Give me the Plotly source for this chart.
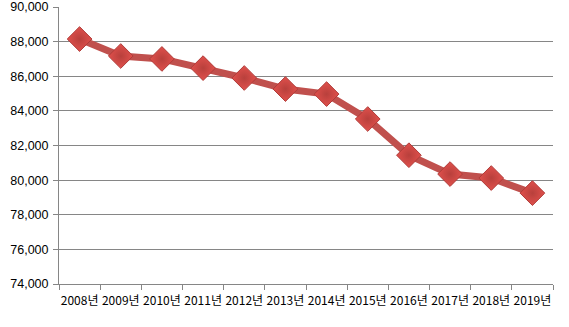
import plotly.graph_objects as go

years = ["2008년", "2009년", "2010년", "2011년", "2012년", "2013년",
         "2014년", "2015년", "2016년", "2017년", "2018년", "2019년"]
values = [88150, 87170, 87000, 86470, 85900, 85260,
          84970, 83530, 81440, 80350, 80120, 79250]
y_ticks = [74000, 76000, 78000, 80000, 82000, 84000, 86000, 88000, 90000]

fig = go.Figure()
fig.add_trace(go.Scatter(
    x=years, y=values, mode="lines+markers",
    line=dict(color="#C0504D", width=7),
    marker=dict(symbol="diamond", size=19, color="#E0504C",
                line=dict(color="#B03B38", width=1),
                gradient=dict(type="radial", color="#B8403C")),
    hoverinfo="x+y",
))

xfont = dict(family="Noto Sans CJK KR, DejaVu Sans, sans-serif", size=12, color="#000000")
yfont = dict(family="Liberation Sans, Arial, sans-serif", size=12.5, color="#000000")
fig.update_layout(
    width=569, height=327,
    margin=dict(l=59, r=16, t=7, b=43, autoexpand=False),
    paper_bgcolor="white", plot_bgcolor="white",
    showlegend=False,
    font=xfont,
)
fig.update_xaxes(
    type="category", tickson="boundaries", ticks="outside", ticklen=5,
    tickcolor="#868686", showline=True, linecolor="#868686", linewidth=1,
    showgrid=False, tickfont=xfont, range=[-0.5, 11.5], tickangle=0,
    automargin=False, ticklabelstandoff=6, ticklabeloverflow="allow",
)
fig.update_yaxes(
    range=[74000, 90000.5], tickvals=y_ticks,
    ticktext=[f"{v:,}" for v in y_ticks],
    ticks="outside", ticklen=5, tickcolor="#868686",
    showline=True, linecolor="#868686", linewidth=1,
    showgrid=True, gridcolor="#868686", gridwidth=1,
    zeroline=False, tickfont=yfont, automargin=False,
    ticklabeloverflow="allow", ticklabelstandoff=2,
)
fig.write_html("out.html", config={"displayModeBar": False},
               post_script="document.body.style.margin='0px';")
